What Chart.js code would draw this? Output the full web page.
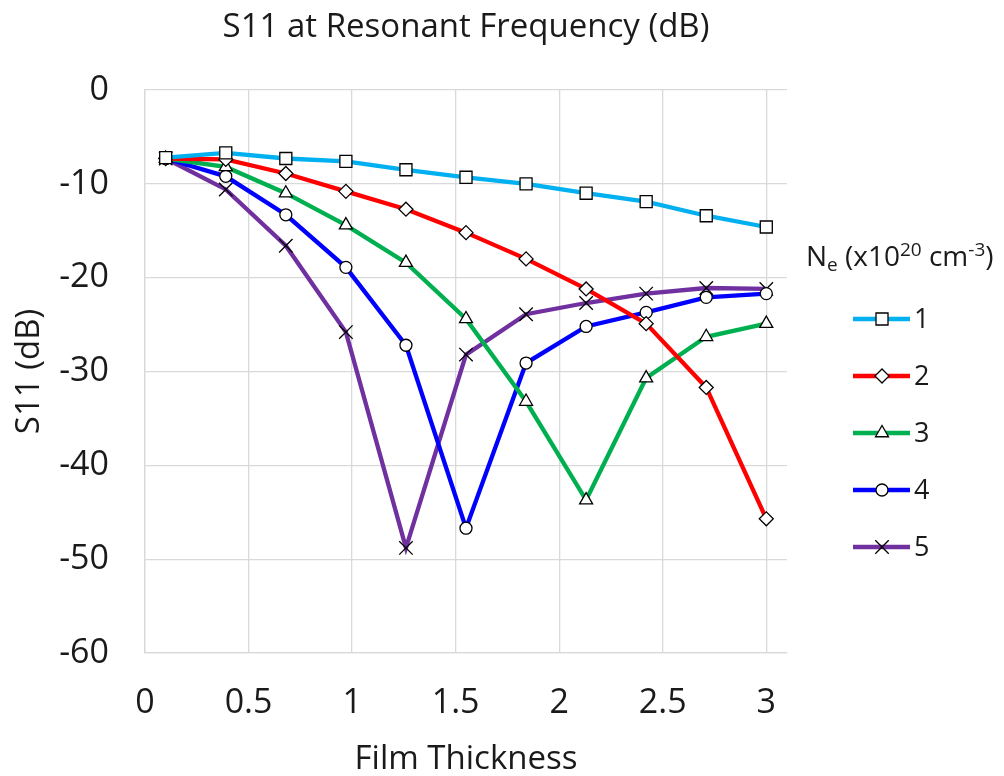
<!DOCTYPE html>
<html>
<head>
<meta charset="utf-8">
<title>S11 at Resonant Frequency (dB)</title>
<script src="https://cdn.jsdelivr.net/npm/chart.js@4.4.0/dist/chart.umd.min.js"></script>
<style>
  html, body { margin: 0; padding: 0; background: #fff; }
  #wrap { width: 1004px; height: 776px; position: relative; }
</style>
</head>
<body>
<div id="wrap"><canvas id="s11Chart"></canvas></div>
<script>
// Film thickness (x) and S11 values (dB) for each electron density
const thickness = [0.1, 0.39, 0.68, 0.97, 1.26, 1.55, 1.84, 2.13, 2.42, 2.71, 3.0];
const ne1 = [-7.2, -6.7, -7.3, -7.6, -8.5, -9.3, -10.0, -11.0, -11.9, -13.4, -14.6];
const ne2 = [-7.3, -7.4, -8.9, -10.8, -12.7, -15.2, -18.0, -21.2, -24.9, -31.7, -45.7];
const ne3 = [-7.3, -8.2, -11.0, -14.4, -18.4, -24.4, -33.2, -43.7, -30.7, -26.3, -24.9];
const ne4 = [-7.3, -9.2, -13.3, -18.9, -27.2, -46.7, -29.1, -25.2, -23.7, -22.1, -21.7];
const ne5 = [-7.3, -10.6, -16.6, -25.8, -48.8, -28.2, -23.9, -22.7, -21.7, -21.1, -21.2];

const seriesNames = ['1', '2', '3', '4', '5'];
const seriesValues = [ne1, ne2, ne3, ne4, ne5];
const seriesColors = ['#00b0f0', '#ff0000', '#00b050', '#0000ff', '#7030a0'];
const markerStyles = ['rect', 'rectRot', 'triangle', 'circle', 'crossRot'];
const markerSizes = [8.5, 7, 7.5, 6, 9.5];

const xTickLabels = ['0', '0.5', '1', '1.5', '2', '2.5', '3'];
const yTickLabels = ['-60', '-50', '-40', '-30', '-20', '-10', '0'];

const FONT = "'Open Sans', 'DejaVu Sans', sans-serif";
const TEXT = '#1a1a1a';
const GRID = '#d9d9d9';

const datasets = seriesValues.map((vals, i) => ({
    label: seriesNames[i],
    data: vals.map((v, j) => ({ x: thickness[j], y: v })),
    showLine: true,
    borderColor: seriesColors[i],
    backgroundColor: seriesColors[i],
    borderWidth: 4.3,
    pointStyle: markerStyles[i],
    pointRadius: markerSizes[i],
    pointBorderColor: '#000',
    pointBackgroundColor: '#fff',
    pointBorderWidth: 1.3
}));

// Legend on the right: line + marker + label, with a sub/superscript title
const sideLegend = {
    id: 'sideLegend',
    afterDraw(chart) {
        const ctx = chart.ctx;
        ctx.save();
        ctx.fillStyle = TEXT;
        ctx.textBaseline = 'alphabetic';

        // title: N_e (x10^20 cm^-3)
        let x = 806;
        const base = 266;
        const parts = [
            { t: 'N', size: 28, dy: 0 },
            { t: 'e', size: 19, dy: 5 },
            { t: ' (x10', size: 28, dy: 0 },
            { t: '20', size: 19, dy: -10 },
            { t: ' cm', size: 28, dy: 0 },
            { t: '-3', size: 19, dy: -10 },
            { t: ')', size: 28, dy: 0 }
        ];
        ctx.textAlign = 'left';
        parts.forEach(p => {
            ctx.font = p.size + 'px ' + FONT;
            ctx.fillText(p.t, x, base + p.dy);
            x += ctx.measureText(p.t).width;
        });

        chart.data.datasets.forEach((ds, i) => {
            const y = 319 + i * 57;
            ctx.strokeStyle = ds.borderColor;
            ctx.lineWidth = 4.3;
            ctx.beginPath();
            ctx.moveTo(853, y);
            ctx.lineTo(910, y);
            ctx.stroke();

            ctx.fillStyle = '#fff';
            ctx.strokeStyle = '#000';
            ctx.lineWidth = 1.3;
            Chart.helpers.drawPoint(ctx, {
                pointStyle: ds.pointStyle,
                radius: ds.pointRadius,
                rotation: 0,
                borderWidth: 1.3
            }, 882, y);

            ctx.fillStyle = TEXT;
            ctx.font = '27px ' + FONT;
            ctx.textBaseline = 'middle';
            ctx.fillText(ds.label, 914, y + 1);
            ctx.textBaseline = 'alphabetic';
        });
        ctx.restore();
    }
};

const ctx = document.getElementById('s11Chart').getContext('2d');
new Chart(ctx, {
    type: 'scatter',
    data: { datasets: datasets },
    options: {
        responsive: true,
        maintainAspectRatio: false,
        animation: false,
        layout: { padding: { top: 0, right: 217, bottom: 0, left: 0 } },
        plugins: {
            legend: { display: false },
            tooltip: { enabled: false },
            title: {
                display: true,
                fullSize: false,
                text: 'S11 at Resonant Frequency (dB)',
                color: TEXT,
                font: { family: FONT, size: 33, weight: 'normal' },
                padding: { top: 8.2, bottom: 42.2 }
            }
        },
        scales: {
            x: {
                type: 'linear',
                min: 0,
                max: 3.1,
                afterFit(scale) { scale.height = 123; },
                ticks: {
                    stepSize: 0.5,
                    includeBounds: false,
                    color: TEXT,
                    padding: 30,
                    font: { family: FONT, size: 34 },
                    callback: (v, i) => xTickLabels[i]
                },
                grid: { color: GRID, lineWidth: 1.3, drawTicks: false },
                border: { color: GRID, width: 1.3 },
                title: {
                    display: true,
                    text: 'Film Thickness',
                    color: TEXT,
                    font: { family: FONT, size: 33, lineHeight: 1 },
                    padding: { top: 0, bottom: 0 }
                }
            },
            y: {
                min: -60,
                max: 0,
                afterFit(scale) { scale.width = 145; },
                ticks: {
                    stepSize: 10,
                    color: TEXT,
                    padding: 36,
                    font: { family: FONT, size: 34 },
                    callback: (v, i) => yTickLabels[i]
                },
                grid: { color: GRID, lineWidth: 1.3, drawTicks: false },
                border: { color: GRID, width: 1.3 },
                title: {
                    display: true,
                    text: 'S11 (dB)',
                    color: TEXT,
                    font: { family: FONT, size: 33, lineHeight: 1 },
                    padding: { top: 13, bottom: 0 }
                }
            }
        }
    },
    plugins: [sideLegend]
});
</script>
</body>
</html>
